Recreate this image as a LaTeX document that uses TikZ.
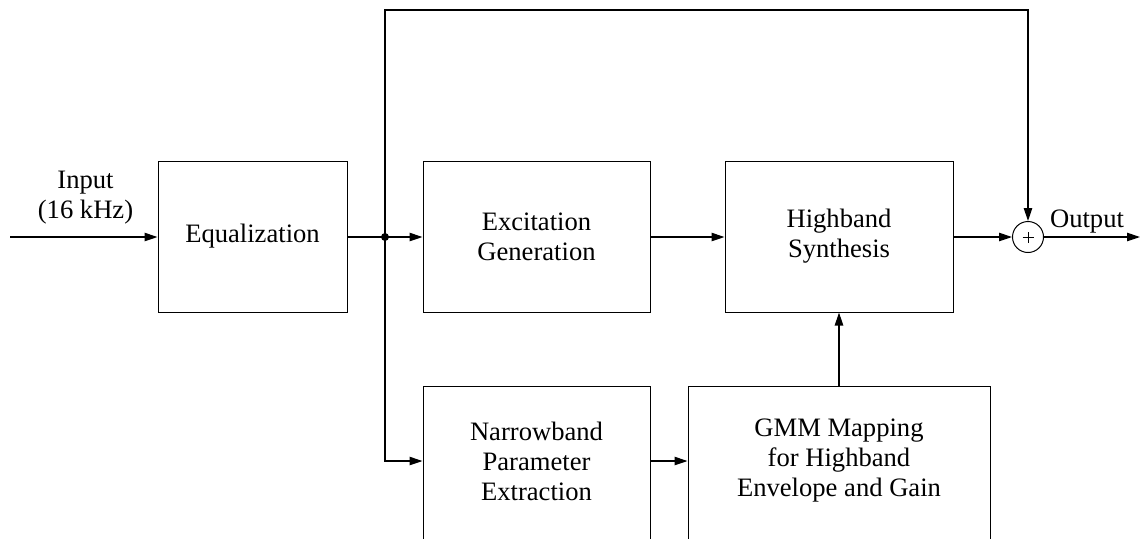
\documentclass[tikz,border=0pt]{standalone}
\usepackage{fontspec}
\setmainfont{Liberation Serif}
\usetikzlibrary{arrows.meta}
\begin{document}
\begin{tikzpicture}[
    x=0.5pt, y={(0,-0.5pt)},
    font=\fontsize{13.3}{15}\selectfont,
    block/.style={draw, line width=0.5pt, inner sep=0pt, align=center},
    label text/.style={align=center, inner sep=0pt},
    conn/.style={line width=0.6pt},
    arr/.style={conn, -{Triangle[length=6.5pt,width=4.2pt]}},
    summer/.style={draw, circle, line width=0.5pt, minimum size=15.5pt, inner sep=0pt}
  ]
  \useasboundingbox (0,0) rectangle (1141,538);
  \clip (0,0) rectangle (1141,538);

  % processing blocks
  \node[block, minimum width=94.5pt, minimum height=75.5pt] (eq) at (252.5,236.5) {Equalization};
  \node[block, minimum width=113.5pt, minimum height=75.5pt] (exc) at (536.5,236.5) {Excitation\\Generation};
  \node[block, minimum width=114pt, minimum height=75.5pt] (hb) at (839,236.5) {Highband\\Synthesis};

  % lower blocks run past the lower edge
  \node[block, anchor=north, minimum width=113.5pt, minimum height=90pt] (nb) at (536.5,386) {};
  \node[label text] (nbt) at (536.5,461) {Narrowband\\Parameter\\Extraction};
  \node[block, anchor=north, minimum width=151pt, minimum height=90pt] (gmm) at (839,386) {};
  \node[label text] (gmmt) at (839,461) {GMM Mapping\\for Highband\\Envelope and Gain};

  % summing junction
  \node[summer] (sum) at (1028,237) {};
  \draw[line width=0.4pt] ([xshift=-2.75pt]sum.center) -- ([xshift=2.75pt]sum.center);
  \draw[line width=0.4pt] ([yshift=-2.75pt]sum.center) -- ([yshift=2.75pt]sum.center);

  % signal labels
  \node[label text] (inlbl) at (85.5,198) {Input\\(16 kHz)};
  \node[label text, anchor=base] (outlbl) at (1087,227) {Output};

  % connectors
  \coordinate (in) at (10,237);
  \coordinate (j) at (385,237);
  \coordinate (tl) at (385,10);
  \coordinate (out) at (1140,237);

  \draw[arr] (in) -- (eq.west |- in);
  \draw[conn] (eq.east |- j) -- (j);
  \draw[arr] (j) -- (exc.west |- j);
  \draw[arr] (exc.east |- j) -- (hb.west |- j);
  \draw[arr] (hb.east |- j) -- (sum.west);
  \draw[arr] (sum.east) -- (out);
  \draw[arr] (j) -- (tl) -| (sum.north);
  \draw[arr] (j) |- (nbt -| nb.west);
  \draw[arr] (nbt -| nb.east) -- (nbt -| gmm.west);
  \draw[arr] (gmm.north) -- (hb.south);
  \fill (j) circle (2pt);
\end{tikzpicture}
\end{document}
